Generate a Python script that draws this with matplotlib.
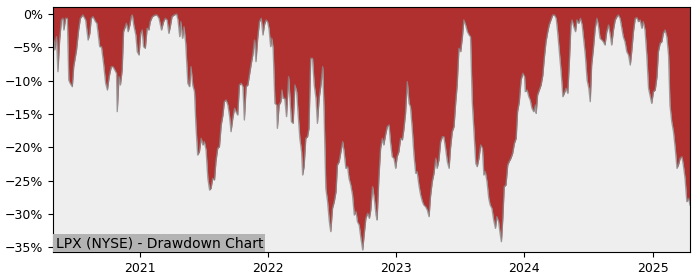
import matplotlib
matplotlib.use("Agg")
import matplotlib.pyplot as plt
import matplotlib.dates as mdates
from matplotlib.ticker import PercentFormatter
import pandas as pd

# drawdown of LPX (NYSE), in percent
dates = [
    "2020-04-29", "2020-05-04", "2020-05-09", "2020-05-13", "2020-05-18", "2020-05-23", "2020-05-27", "2020-05-30",
    "2020-06-04", "2020-06-09", "2020-06-13", "2020-06-17", "2020-06-23", "2020-06-27", "2020-07-05", "2020-07-11",
    "2020-07-16", "2020-07-23", "2020-07-31", "2020-08-07", "2020-08-12", "2020-08-16", "2020-08-21", "2020-08-28",
    "2020-09-01", "2020-09-09", "2020-09-14", "2020-09-20", "2020-09-26", "2020-10-01", "2020-10-06", "2020-10-12",
    "2020-10-17", "2020-10-22", "2020-10-27", "2020-10-29", "2020-11-03", "2020-11-07", "2020-11-12", "2020-11-16",
    "2020-11-24", "2020-11-29", "2020-12-04", "2020-12-08", "2020-12-11", "2020-12-15", "2020-12-21", "2020-12-25",
    "2020-12-30", "2021-01-04", "2021-01-08", "2021-01-12", "2021-01-17", "2021-01-22", "2021-01-27", "2021-01-31",
    "2021-02-06", "2021-02-14", "2021-02-19", "2021-02-25", "2021-03-04", "2021-03-10", "2021-03-15", "2021-03-20",
    "2021-03-25", "2021-03-29", "2021-04-03", "2021-04-09", "2021-04-16", "2021-04-20", "2021-04-25", "2021-04-28",
    "2021-05-03", "2021-05-07", "2021-05-12",
    "2021-05-18", "2021-05-23", "2021-05-27", "2021-06-01", "2021-06-06", "2021-06-10", "2021-06-15", "2021-06-20",
    "2021-06-25", "2021-06-30", "2021-07-04", "2021-07-09", "2021-07-14", "2021-07-19", "2021-07-23", "2021-07-28",
    "2021-08-02", "2021-08-06", "2021-08-11", "2021-08-16", "2021-08-21", "2021-08-26", "2021-08-30", "2021-09-04",
    "2021-09-09", "2021-09-14", "2021-09-18", "2021-09-23", "2021-09-28", "2021-10-02", "2021-10-07", "2021-10-12",
    "2021-10-17", "2021-10-22", "2021-10-26", "2021-10-31", "2021-11-05", "2021-11-14", "2021-11-19", "2021-11-24",
    "2021-11-28", "2021-12-03", "2021-12-08", "2021-12-13", "2021-12-18", "2021-12-22", "2021-12-27",
    "2021-12-31", "2022-01-04", "2022-01-09", "2022-01-12", "2022-01-16", "2022-01-21", "2022-01-26", "2022-01-28",
    "2022-02-02", "2022-02-07", "2022-02-10", "2022-02-13", "2022-02-18", "2022-02-23", "2022-03-01", "2022-03-05",
    "2022-03-09", "2022-03-14", "2022-03-19", "2022-03-24", "2022-03-28", "2022-04-02", "2022-04-07", "2022-04-10",
    "2022-04-14", "2022-04-19", "2022-04-24", "2022-04-28", "2022-05-03", "2022-05-08", "2022-05-13", "2022-05-18",
    "2022-05-22", "2022-05-27", "2022-06-01", "2022-06-06", "2022-06-10", "2022-06-15", "2022-06-20", "2022-06-25",
    "2022-06-29", "2022-07-04", "2022-07-09", "2022-07-14", "2022-07-18", "2022-07-23", "2022-07-28", "2022-08-02",
    "2022-08-06", "2022-08-11", "2022-08-16", "2022-08-20", "2022-08-25", "2022-08-30", "2022-09-04", "2022-09-09",
    "2022-09-13", "2022-09-18", "2022-09-23", "2022-09-28", "2022-10-02", "2022-10-07", "2022-10-12", "2022-10-17",
    "2022-10-21", "2022-10-26", "2022-10-31", "2022-11-05",
    "2022-11-08", "2022-11-13", "2022-11-18", "2022-11-23", "2022-11-27", "2022-12-02", "2022-12-07", "2022-12-12",
    "2022-12-16", "2022-12-21", "2022-12-26", "2022-12-31", "2023-01-04", "2023-01-09", "2023-01-14", "2023-01-19",
    "2023-01-23", "2023-01-28", "2023-02-02", "2023-02-07", "2023-02-11", "2023-02-16", "2023-02-21", "2023-02-26",
    "2023-03-02", "2023-03-07", "2023-03-12", "2023-03-17", "2023-03-21", "2023-03-26", "2023-03-31", "2023-04-05",
    "2023-04-09", "2023-04-14", "2023-04-19", "2023-04-24", "2023-04-28", "2023-05-03", "2023-05-08", "2023-05-13",
    "2023-05-17", "2023-05-22", "2023-05-27", "2023-06-01", "2023-06-05", "2023-06-10", "2023-06-15", "2023-06-20",
    "2023-06-24", "2023-06-29", "2023-07-04", "2023-07-09", "2023-07-13", "2023-07-18", "2023-07-23", "2023-07-28",
    "2023-08-01", "2023-08-06", "2023-08-11", "2023-08-16", "2023-08-20", "2023-08-25", "2023-08-30", "2023-09-04",
    "2023-09-08",
    "2023-09-12", "2023-09-17", "2023-09-22", "2023-09-26", "2023-10-01", "2023-10-06", "2023-10-11", "2023-10-15",
    "2023-10-20", "2023-10-25", "2023-10-28", "2023-11-01", "2023-11-05", "2023-11-10", "2023-11-15", "2023-11-19",
    "2023-11-24", "2023-11-29", "2023-12-04", "2023-12-09", "2023-12-13", "2023-12-18", "2023-12-23", "2023-12-28",
    "2024-01-02", "2024-01-04", "2024-01-09", "2024-01-14", "2024-01-18", "2024-01-23", "2024-01-28", "2024-02-02",
    "2024-02-04", "2024-02-08", "2024-02-13", "2024-02-18", "2024-02-23", "2024-02-27", "2024-03-03", "2024-03-08",
    "2024-03-12", "2024-03-17", "2024-03-22", "2024-03-27", "2024-04-01", "2024-04-05", "2024-04-10", "2024-04-15",
    "2024-04-20", "2024-04-24", "2024-04-29", "2024-05-04", "2024-05-09", "2024-05-13", "2024-05-16", "2024-05-21",
    "2024-05-26", "2024-05-30", "2024-06-04", "2024-06-09", "2024-06-14", "2024-06-18", "2024-06-23", "2024-06-28",
    "2024-07-03", "2024-07-07",
    "2024-07-11", "2024-07-16", "2024-07-21", "2024-07-26", "2024-07-30", "2024-08-04", "2024-08-09", "2024-08-13",
    "2024-08-18", "2024-08-23", "2024-08-28", "2024-09-02", "2024-09-06", "2024-09-11", "2024-09-16", "2024-09-21",
    "2024-09-25", "2024-09-30", "2024-10-05", "2024-10-09", "2024-10-14", "2024-10-19", "2024-10-24", "2024-10-29",
    "2024-11-02", "2024-11-07", "2024-11-12", "2024-11-17", "2024-11-21", "2024-11-26", "2024-12-01", "2024-12-05",
    "2024-12-10", "2024-12-15", "2024-12-20", "2024-12-24", "2024-12-29", "2025-01-03", "2025-01-08", "2025-01-13",
    "2025-01-17", "2025-01-22", "2025-01-27", "2025-01-31", "2025-02-05", "2025-02-10", "2025-02-15", "2025-02-19",
    "2025-02-24", "2025-03-01", "2025-03-06", "2025-03-11", "2025-03-15", "2025-03-20", "2025-03-25", "2025-03-29",
    "2025-04-03", "2025-04-08", "2025-04-13", "2025-04-17",
]

drawdown = [
    -2.9, -5.4, -3.4, -8.65, -3.9, -0.9, -0.65, -2.4,
    -0.65, -0.65, -9.9, -10.4, -10.9, -7.9, -5.4, -2.4,
    -0.65, -0.15, -0.9, -3.9, -2.9, -0.65, -0.4, -1.15,
    -1.4, -4.9, -4.9, -7.4, -10.4, -11.4, -9.4, -7.9,
    -7.9, -8.4, -8.9, -14.65, -9.4, -10.65, -8.4, -2.65,
    -1.4, -2.65, -1.65, -0.4, -0.15, -1.65, -3.15, -5.65,
    -6.15, -2.9, -2.4, -4.9, -5.15, -2.15, -2.4, -1.15,
    -0.4, -0.15, -0.15, -0.65, -2.4, -1.15, -0.65, -0.9,
    -2.9, -1.9, -0.4, -0.15, 0.0, -0.9, -3.4, -1.15,
    -3.65, -1.9, -4.4,
    -10.4, -10.9, -7.9, -10.65, -11.65, -16.65, -21.15, -20.65,
    -18.65, -19.65, -19.15, -20.4, -24.65, -26.4, -26.15, -24.65,
    -24.9, -22.15, -20.15, -19.9, -16.65, -15.15, -13.15, -12.9,
    -13.65, -15.4, -17.65, -15.65, -14.15, -14.65, -15.15, -10.65,
    -10.4, -10.9, -15.9, -10.9, -10.65, -7.65, -6.15, -3.9,
    -7.15, -3.65, -1.15, -0.65, -3.15, -1.65, -0.9,
    -1.15, -2.15, -4.9, -3.65, -5.15, -13.4, -13.65, -17.15,
    -13.65, -13.15, -11.4, -12.65, -12.65, -15.4, -9.4, -12.65,
    -16.15, -16.4, -10.65, -11.65, -14.9, -18.65, -20.65, -24.15,
    -22.9, -18.65, -18.4, -17.15, -6.65, -6.65, -10.65, -12.65,
    -16.4, -12.65, -10.65, -7.9, -14.65, -26.15, -28.15, -31.15,
    -32.65, -29.15, -28.15, -26.65, -22.65, -22.15, -20.65, -19.15,
    -20.65, -23.15, -22.9, -24.65, -25.65, -27.15, -30.15, -29.65,
    -31.15, -31.65, -33.65, -35.4, -33.15, -30.65, -29.9, -30.65,
    -29.4, -25.9, -27.65, -30.15,
    -30.9, -24.65, -20.15, -18.65, -19.65, -18.15, -16.9, -16.65,
    -19.15, -21.4, -21.65, -23.15, -21.4, -20.65, -18.65, -18.9,
    -17.4, -14.9, -10.15, -13.4, -13.9, -17.15, -21.15, -23.9,
    -23.65, -25.65, -27.15, -28.15, -28.65, -28.9, -29.4, -30.4,
    -27.4, -25.15, -23.9, -21.65, -23.15, -21.9, -19.15, -18.4,
    -18.4, -20.15, -22.15, -23.15, -20.15, -17.65, -16.9, -13.15,
    -10.65, -5.15, -5.65, -3.4, -0.9, -1.65, -2.65, -3.15,
    -3.4, -13.15, -17.65, -22.4, -22.9, -21.65, -19.65, -20.15,
    -24.15,
    -23.65, -25.15, -27.65, -28.65, -29.15, -30.9, -32.15, -30.4,
    -31.15, -33.15, -34.15, -30.65, -25.9, -25.65, -22.65, -22.15,
    -21.65, -20.9, -19.4, -18.65, -14.65, -13.15, -9.9, -8.9,
    -9.4, -11.65, -11.4, -12.4, -12.9, -14.15, -14.65, -13.65,
    -14.9, -12.15, -11.4, -10.65, -9.15, -6.65, -4.15, -2.65,
    -1.65, -0.9, -0.15, -0.15, -0.65, -2.65, -5.65, -8.65,
    -12.4, -11.9, -11.15, -11.9, -6.65, -1.65, -0.9, -1.9,
    -2.65, -0.9, -1.4, -0.65, -1.65, -3.65, -6.15, -9.9,
    -11.15, -13.15,
    -7.65, -5.15, -2.15, -0.65, -1.65, -3.65, -3.9, -4.15,
    -4.65, -2.65, -1.65, -3.15, -4.65, -2.4, -0.9, -0.4,
    -0.15, -0.65, -2.15, -3.4, -4.15, -5.65, -6.15, -7.65,
    -5.65, -2.65, -0.65, -0.55, -1.15, -0.9, -2.15, -1.15,
    -2.4, -6.15, -11.15, -12.15, -13.4, -11.65, -11.4, -9.4,
    -5.65, -4.4, -4.15, -2.9, -2.4, -3.4, -6.15, -13.65,
    -16.15, -17.65, -20.15, -23.15, -22.65, -21.65, -21.4, -22.65,
    -24.65, -28.15, -27.65, -28.65,
]

label = "LPX (NYSE) - Drawdown Chart"

x = pd.to_datetime(dates)
y_top, y_bottom = 1.05, -35.7

fig = plt.figure(figsize=(7, 2.8), dpi=100)
ax = fig.add_axes([0.0757, 0.1, 0.91, 0.875])
ax.set_facecolor("#eeeeee")

ax.fill_between(x, drawdown, y_top, color="#b03030", linewidth=0)
ax.plot(x, drawdown, color="#8a8a8a", linewidth=1.0, alpha=0.8)

ax.set_xlim(x[0], x[-1])
ax.set_ylim(y_bottom, y_top)
ax.set_yticks(range(0, -40, -5))
ax.yaxis.set_major_formatter(PercentFormatter(xmax=100, decimals=0))
ax.xaxis.set_major_locator(mdates.YearLocator())
ax.xaxis.set_major_formatter(mdates.DateFormatter("%Y"))
ax.tick_params(labelsize=9)

ax.text(0.004, 0.008, label, transform=ax.transAxes, fontsize=10,
        ha="left", va="bottom",
        bbox=dict(facecolor="#b3b3b3", edgecolor="none", pad=1.5))

fig.savefig("out.png", dpi=100)
